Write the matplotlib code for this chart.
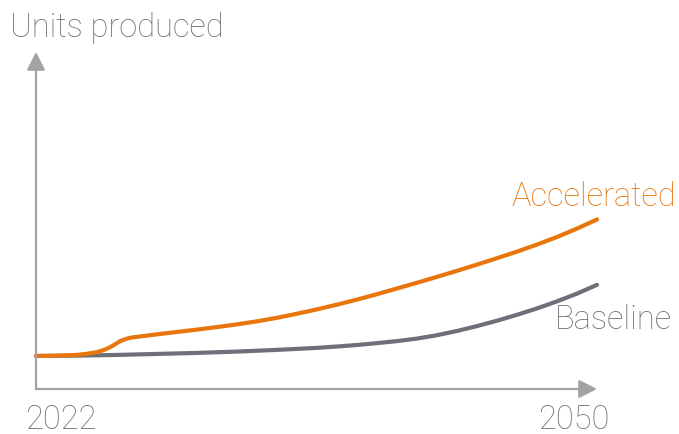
import matplotlib
matplotlib.use("Agg")
import matplotlib.pyplot as plt

plt.rcParams["font.family"] = ["Roboto", "DejaVu Sans"]

# Projected output, arbitrary units
years_baseline = list(range(2022, 2051))
baseline = [9.8, 9.85, 9.9, 10.0, 10.1, 10.25, 10.4, 10.55, 10.7, 10.9,
            11.1, 11.35, 11.6, 11.9, 12.2, 12.6, 13.05, 13.6, 14.2, 14.95,
            15.95, 17.2, 18.65, 20.25, 22.0, 23.9, 26.0, 28.3, 30.9]

years_accel = [2022, 2023, 2024, 2024.5, 2025, 2025.3, 2025.6, 2025.9, 2026.2,
               2026.5, 2026.8, 2027.2, 2028, 2029, 2030, 2031, 2032, 2033,
               2034, 2035, 2036, 2037, 2038, 2039, 2040, 2041, 2042, 2043,
               2044, 2045, 2046, 2047, 2048, 2049, 2050]
accelerated = [9.8, 9.9, 10.1, 10.4, 10.9, 11.4, 12.1, 13.1, 14.2,
               14.9, 15.3, 15.6, 16.2, 16.9, 17.6, 18.35, 19.15, 20.05,
               21.1, 22.3, 23.6, 25.0, 26.5, 28.1, 29.8, 31.5, 33.25, 35.05,
               36.9, 38.8, 40.75, 42.85, 45.1, 47.6, 50.3]

x_labels = ["2022", "2050"]

ORANGE = "#E8760C"
GREY = "#6D7078"
AXIS = "#A3A3A3"
TEXT = "#707379"

W, H = 679, 434
fig = plt.figure(figsize=(W / 100, H / 100), dpi=100)
ax = fig.add_axes([36 / W, 45 / H, 561 / W, 337 / H])
ax.set_xlim(2022, 2050)
ax.set_ylim(0, 100)
ax.axis("off")

# axis arrows
arrow = dict(arrowstyle="-|>,head_length=0.55,head_width=0.28",
             color=AXIS, lw=1.6, shrinkA=0, shrinkB=0, mutation_scale=20)
ax.annotate("", xy=(1.0, 0), xytext=(0, 0), xycoords="axes fraction",
            arrowprops=arrow, annotation_clip=False)
ax.annotate("", xy=(0, 1.0), xytext=(0, 0), xycoords="axes fraction",
            arrowprops=arrow, annotation_clip=False)

ax.plot(years_baseline, baseline, color=GREY, lw=3, solid_capstyle="round",
        solid_joinstyle="round", clip_on=False)
ax.plot(years_accel, accelerated, color=ORANGE, lw=3, solid_capstyle="round",
        solid_joinstyle="round", clip_on=False)


def px_text(x, y, s, color, ha="left"):
    fig.text(x / W, (H - y) / H, s, color=color, ha=ha, va="baseline",
             fontsize=23.5, fontweight="light")


px_text(10, 37, "Units produced", TEXT)
px_text(25, 429, x_labels[0], TEXT)
px_text(538, 429, x_labels[1], TEXT)
px_text(676, 206, "Accelerated", ORANGE, ha="right")
px_text(672, 329, "Baseline", TEXT, ha="right")

fig.savefig("out.png", dpi=100)
